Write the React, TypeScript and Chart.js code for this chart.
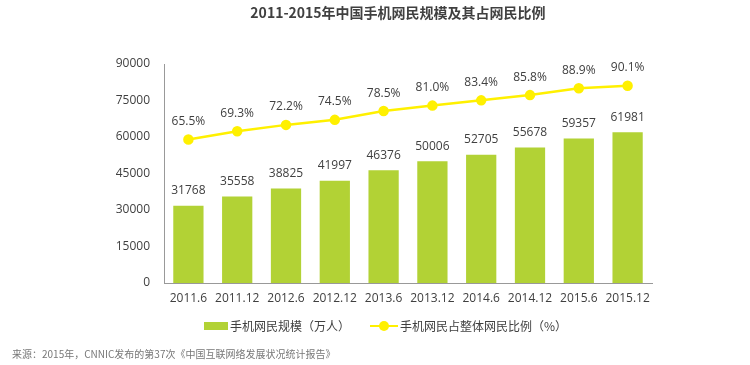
import React, { useEffect, useRef } from "react";
import { Chart, registerables } from "chart.js";

Chart.register(...registerables);

const categories = ["2011.6", "2011.12", "2012.6", "2012.12", "2013.6", "2013.12", "2014.6", "2014.12", "2015.6", "2015.12"];
const users = [31768, 35558, 38825, 41997, 46376, 50006, 52705, 55678, 59357, 61981];
const share = [65.5, 69.3, 72.2, 74.5, 78.5, 81.0, 83.4, 85.8, 88.9, 90.1];
const yTicks = [0, 15000, 30000, 45000, 60000, 75000, 90000];

const TITLE = "2011-2015年中国手机网民规模及其占网民比例";
const LEGEND_BAR = "手机网民规模（万人）";
const LEGEND_LINE = "手机网民占整体网民比例（%）";
const SOURCE = "来源：2015年，CNNIC发布的第37次《中国互联网络发展状况统计报告》";

const FONT = '"Open Sans", "Noto Sans CJK SC", sans-serif';
const CJK_FONT = '"Noto Sans CJK SC", "Open Sans", sans-serif';
const BAR_COLOR = "#b2d235";
const LINE_COLOR = "#fff000";
const TEXT_COLOR = "#404040";

const labelPlugin = {
  id: "valueLabels",
  afterDatasetsDraw(chart: any) {
    const ctx = chart.ctx;
    ctx.save();
    ctx.font = `12px ${FONT}`;
    ctx.fillStyle = TEXT_COLOR;
    ctx.textAlign = "center";
    ctx.textBaseline = "middle";
    chart.getDatasetMeta(0).data.forEach((el: any, i: number) => {
      ctx.fillText(String(users[i]), el.x, el.y - 15);
    });
    chart.getDatasetMeta(1).data.forEach((el: any, i: number) => {
      ctx.fillText(share[i].toFixed(1) + "%", el.x, el.y - 18);
    });
    ctx.restore();
  },
};

export default function App() {
  const ref = useRef<HTMLCanvasElement | null>(null);

  useEffect(() => {
    if (!ref.current) return;
    const chart = new Chart(ref.current, {
      type: "bar",
      data: {
        labels: categories,
        datasets: [
          {
            type: "bar",
            label: LEGEND_BAR,
            data: users,
            backgroundColor: BAR_COLOR,
            barPercentage: 0.62,
            categoryPercentage: 1,
            yAxisID: "y",
            order: 2,
          },
          {
            type: "line",
            label: LEGEND_LINE,
            data: share,
            borderColor: LINE_COLOR,
            backgroundColor: LINE_COLOR,
            borderWidth: 2.5,
            pointRadius: 4,
            pointBackgroundColor: LINE_COLOR,
            pointBorderColor: LINE_COLOR,
            yAxisID: "y1",
            order: 1,
          } as any,
        ],
      },
      options: {
        responsive: false,
        animation: false,
        layout: { padding: { left: 0, top: 64, right: 98, bottom: 0 } },
        plugins: {
          legend: { display: false },
          title: { display: false },
          tooltip: { enabled: false },
        },
        scales: {
          x: {
            grid: { display: false, drawTicks: false },
            border: { display: true, color: "#999999", width: 1 },
            ticks: { color: TEXT_COLOR, font: { family: FONT, size: 12 }, padding: 8, maxRotation: 0 },
            afterFit(scale: any) {
              scale.height = 82;
            },
          },
          y: {
            min: 0,
            max: 90000,
            afterBuildTicks(scale: any) {
              scale.ticks = yTicks.map((v) => ({ value: v }));
            },
            grid: { display: false, drawTicks: false },
            border: { display: true, color: "#999999", width: 1 },
            ticks: {
              color: TEXT_COLOR,
              font: { family: FONT, size: 12 },
              padding: 14,
              callback: (v: any) => String(v),
            },
            afterFit(scale: any) {
              scale.width = 164;
            },
          },
          y1: {
            display: false,
            min: 0,
            max: 100,
            position: "right",
          },
        },
      },
      plugins: [labelPlugin],
    });
    return () => chart.destroy();
  }, []);

  return (
    <div style={{ position: "fixed", left: 0, top: 0, width: 750, height: 365, background: "#fff", fontFamily: CJK_FONT }}>
      <canvas ref={ref} width={750} height={365} style={{ position: "absolute", left: 0, top: 0 }} />
      <div style={{ position: "absolute", left: 0, width: 796, top: 2, textAlign: "center", fontSize: 14, fontWeight: "bold", color: "#404040" }}>
        {TITLE}
      </div>
      <div style={{ position: "absolute", left: 204, top: 317, display: "flex", alignItems: "center", fontSize: 12, color: TEXT_COLOR }}>
        <span style={{ display: "inline-block", width: 24, height: 8, background: BAR_COLOR, marginRight: 2 }} />
        <span>{LEGEND_BAR}</span>
        <span style={{ display: "inline-block", position: "relative", width: 28, height: 10, marginLeft: 20, marginRight: 2 }}>
          <span style={{ position: "absolute", left: 0, top: 4, width: 28, height: 2, background: LINE_COLOR }} />
          <span style={{ position: "absolute", left: 9, top: 0, width: 10, height: 10, borderRadius: 5, background: LINE_COLOR }} />
        </span>
        <span>{LEGEND_LINE}</span>
      </div>
      <div style={{ position: "absolute", left: 12, top: 346, fontSize: 10, color: "#777" }}>{SOURCE}</div>
    </div>
  );
}
